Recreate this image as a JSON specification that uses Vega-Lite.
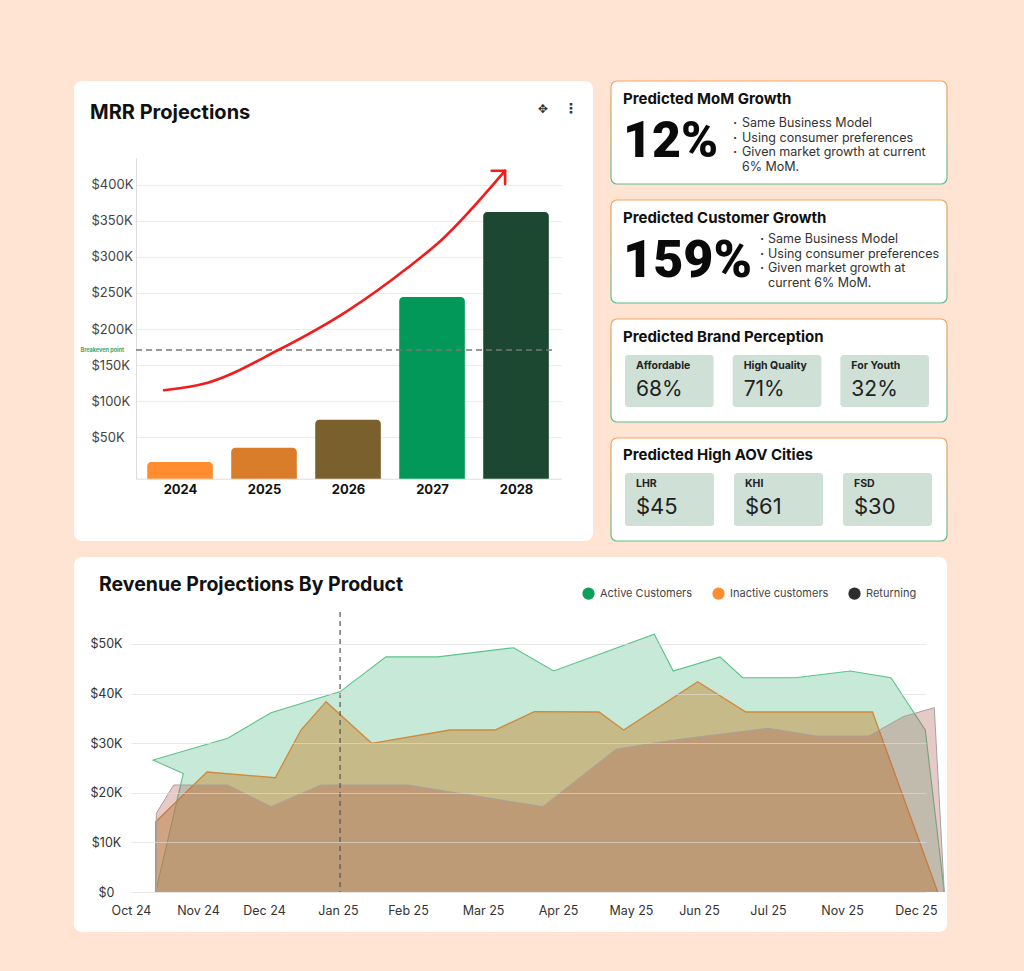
{
  "$schema": "https://vega.github.io/schema/vega-lite/v6.json",
  "background": "#ffe3d3",
  "padding": {"left": 74, "top": 80, "right": 76, "bottom": 39},
  "config": {
    "font": "Inter",
    "view": {"stroke": null},
    "title": {"font": "Inter"}
  },
  "resolve": {"scale": {"color": "independent"}, "legend": {"color": "independent"}},
  "datasets": {
    "arrow": [
      {"year": 2023.81, "mrr": 115100},
      {"year": 2024.33, "mrr": 125600},
      {"year": 2025.17, "mrr": 170900},
      {"year": 2025.99, "mrr": 224900},
      {"year": 2026.71, "mrr": 284900},
      {"year": 2027.1, "mrr": 321900},
      {"year": 2027.87, "mrr": 419300}
    ],
    "revenue": [
      {"s": "Active Customers", "i": 1, "t": 0.346, "v": 0},
      {"s": "Active Customers", "i": 2, "t": 0.733, "v": 23900},
      {"s": "Active Customers", "i": 3, "t": 0.308, "v": 26600},
      {"s": "Active Customers", "i": 4, "t": 1.355, "v": 31000},
      {"s": "Active Customers", "i": 5, "t": 1.962, "v": 36150},
      {"s": "Active Customers", "i": 6, "t": 2.933, "v": 40400},
      {"s": "Active Customers", "i": 7, "t": 3.573, "v": 47400},
      {"s": "Active Customers", "i": 8, "t": 4.298, "v": 47400},
      {"s": "Active Customers", "i": 9, "t": 5.363, "v": 49250},
      {"s": "Active Customers", "i": 10, "t": 5.923, "v": 44560},
      {"s": "Active Customers", "i": 11, "t": 7.333, "v": 51960},
      {"s": "Active Customers", "i": 12, "t": 7.599, "v": 44560},
      {"s": "Active Customers", "i": 13, "t": 8.254, "v": 47400},
      {"s": "Active Customers", "i": 14, "t": 8.572, "v": 43200},
      {"s": "Active Customers", "i": 15, "t": 9.309, "v": 43200},
      {"s": "Active Customers", "i": 16, "t": 10.08, "v": 44560},
      {"s": "Active Customers", "i": 17, "t": 10.65, "v": 43200},
      {"s": "Active Customers", "i": 18, "t": 11.131, "v": 32660},
      {"s": "Active Customers", "i": 19, "t": 11.397, "v": 0},
      {"s": "Inactive customers", "i": 1, "t": 0.346, "v": 0},
      {"s": "Inactive customers", "i": 2, "t": 0.346, "v": 14170},
      {"s": "Inactive customers", "i": 3, "t": 1.065, "v": 24190},
      {"s": "Inactive customers", "i": 4, "t": 2.022, "v": 23040},
      {"s": "Inactive customers", "i": 5, "t": 2.382, "v": 32660},
      {"s": "Inactive customers", "i": 6, "t": 2.733, "v": 38370},
      {"s": "Inactive customers", "i": 7, "t": 3.373, "v": 29980},
      {"s": "Inactive customers", "i": 8, "t": 4.47, "v": 32660},
      {"s": "Inactive customers", "i": 9, "t": 5.101, "v": 32660},
      {"s": "Inactive customers", "i": 10, "t": 5.652, "v": 36350},
      {"s": "Inactive customers", "i": 11, "t": 6.558, "v": 36290},
      {"s": "Inactive customers", "i": 12, "t": 6.904, "v": 32660},
      {"s": "Inactive customers", "i": 13, "t": 7.941, "v": 42400},
      {"s": "Inactive customers", "i": 14, "t": 8.618, "v": 36290},
      {"s": "Inactive customers", "i": 15, "t": 10.391, "v": 36290},
      {"s": "Inactive customers", "i": 16, "t": 11.305, "v": 0},
      {"s": "Returning", "i": 1, "t": 0.355, "v": 0},
      {"s": "Returning", "i": 2, "t": 0.355, "v": 15870},
      {"s": "Returning", "i": 3, "t": 0.598, "v": 21570},
      {"s": "Returning", "i": 4, "t": 1.355, "v": 21570},
      {"s": "Returning", "i": 5, "t": 1.962, "v": 17200},
      {"s": "Returning", "i": 6, "t": 2.663, "v": 21570},
      {"s": "Returning", "i": 7, "t": 3.878, "v": 21570},
      {"s": "Returning", "i": 8, "t": 5.769, "v": 17200},
      {"s": "Returning", "i": 9, "t": 6.797, "v": 28770},
      {"s": "Returning", "i": 10, "t": 7.329, "v": 30040},
      {"s": "Returning", "i": 11, "t": 7.946, "v": 31250},
      {"s": "Returning", "i": 12, "t": 8.927, "v": 33000},
      {"s": "Returning", "i": 13, "t": 9.599, "v": 31450},
      {"s": "Returning", "i": 14, "t": 10.342, "v": 31450},
      {"s": "Returning", "i": 15, "t": 10.818, "v": 35340},
      {"s": "Returning", "i": 16, "t": 11.257, "v": 37160},
      {"s": "Returning", "i": 17, "t": 11.397, "v": 0}
    ]
  },
  "spacing": 15,
  "vconcat": [
    {
      "spacing": 17,
      "hconcat": [
        {
          "width": 519,
          "height": 460,
          "view": {"fill": "#ffffff", "cornerRadius": 8, "stroke": null},
          "title": {"text": "MRR Projections", "anchor": "start", "frame": "group", "orient": "top", "offset": -42, "dx": 16, "fontSize": 20, "fontWeight": 700, "color": "#111111"},
          "layer": [
            {
              "data": {"values": [
                {"year": 2024, "mrr": 15800},
                {"year": 2025, "mrr": 35600},
                {"year": 2026, "mrr": 74400},
                {"year": 2027, "mrr": 244300},
                {"year": 2028, "mrr": 362000}
              ]},
              "mark": {"type": "bar", "width": 65.6, "cornerRadiusTopLeft": 4, "cornerRadiusTopRight": 4},
              "encoding": {
                "x": {"field": "year", "type": "quantitative",
                  "scale": {"domain": [2023.476, 2028.539], "range": [62, 487.3], "nice": false, "zero": false, "padding": 0},
                  "axis": {"orient": "bottom", "offset": -62.3, "values": [2024, 2025, 2026, 2027, 2028], "format": "d", "title": null, "grid": false, "ticks": false, "tickSize": 0, "domain": true, "domainColor": "#dddddd", "labelFontWeight": 700, "labelFontSize": 13, "labelColor": "#111111", "labelPadding": 5, "labelFlush": false, "labelOverlap": false}},
                "y": {"field": "mrr", "type": "quantitative",
                  "scale": {"domain": [-7340, 437300], "range": [397.7, 76.7], "nice": false, "zero": false},
                  "axis": {"orient": "left", "offset": -62, "values": [50000, 100000, 150000, 200000, 250000, 300000, 350000, 400000], "labelExpr": "'$' + (datum.value / 1000) + 'K'", "title": null, "ticks": false, "tickSize": 0, "domain": true, "domainColor": "#dddddd", "grid": true, "gridColor": "#ececec", "labelAlign": "left", "labelPadding": 45, "labelFontSize": 13, "labelColor": "#444444", "labelOverlap": false}},
                "y2": {"datum": -7340},
                "color": {"field": "year", "type": "nominal", "scale": {"domain": [2024, 2025, 2026, 2027, 2028], "range": ["#ff8c2e", "#d97d2b", "#7a602c", "#02985a", "#1c4731"]}, "legend": null}
              }
            },
            {
              "data": {"values": [{"label": "Breakeven point", "mrr": 171000}]},
              "layer": [
                {
                  "mark": {"type": "rule", "color": "#777777", "strokeWidth": 1.5, "strokeDash": [6, 4]},
                  "encoding": {
                    "y": {"field": "mrr", "type": "quantitative"},
                    "x": {"datum": 2023.476, "type": "quantitative"},
                    "x2": {"datum": 2028.47}
                  }
                },
                {
                  "mark": {"type": "text", "align": "right", "baseline": "middle", "dx": -12, "fontSize": 5.5, "fontWeight": 700, "color": "#3aa56b"},
                  "encoding": {
                    "y": {"field": "mrr", "type": "quantitative"},
                    "x": {"datum": 2023.476, "type": "quantitative"},
                    "text": {"field": "label"}
                  }
                }
              ]
            },
            {
              "data": {"name": "arrow"},
              "mark": {"type": "line", "color": "#f21c1c", "strokeWidth": 2.6, "interpolate": "monotone", "strokeCap": "round"},
              "encoding": {
                "x": {"field": "year", "type": "quantitative"},
                "y": {"field": "mrr", "type": "quantitative"}
              }
            },
            {
              "data": {"name": "arrow"},
              "transform": [{"filter": "datum.year > 2027.8"}],
              "mark": {"type": "point", "shape": "M-1,0L0,0L0,1", "size": 720, "filled": false, "stroke": "#f21c1c", "strokeWidth": 2.6, "strokeCap": "round", "strokeJoin": "round", "opacity": 1},
              "encoding": {
                "x": {"field": "year", "type": "quantitative"},
                "y": {"field": "mrr", "type": "quantitative"}
              }
            },
            {
              "data": {"values": [{}]},
              "mark": {"type": "text", "text": "✥", "fontSize": 12, "color": "#333333", "font": "DejaVu Sans", "baseline": "middle"},
              "encoding": {"x": {"datum": 2028.32, "type": "quantitative"}, "y": {"datum": 504700, "type": "quantitative"}}
            },
            {
              "data": {"values": [{}]},
              "mark": {"type": "text", "text": "⋮", "fontSize": 14, "fontWeight": 700, "color": "#333333", "font": "DejaVu Sans", "baseline": "middle"},
              "encoding": {"x": {"datum": 2028.655, "type": "quantitative"}, "y": {"datum": 504700, "type": "quantitative"}}
            }
          ]
        },
        {
          "spacing": 14,
          "vconcat": [
            {
              "width": 336,
              "height": 103,
              "title": {"text": "Predicted MoM Growth", "anchor": "start", "frame": "group", "orient": "top", "offset": -27, "dx": 12, "fontSize": 15, "fontWeight": 700, "color": "#111111"},
              "layer": [
                {
                  "data": {"values": [{}]},
                  "mark": {"type": "rect", "fill": "#ffffff", "cornerRadius": 6, "strokeWidth": 1.2, "stroke": {"gradient": "linear", "x1": 0, "y1": 0, "x2": 0, "y2": 1, "stops": [{"offset": 0, "color": "#f8a25a"}, {"offset": 1, "color": "#5cc08b"}]}},
                  "encoding": {}
                },
                {
                  "data": {"values": [{"part": "value", "text": "12%"}]},
                  "mark": {"type": "text", "align": "left", "baseline": "middle", "fontSize": 50, "fontWeight": 900, "font": "Roboto", "color": "#0a0a0a", "dy": 9},
                  "encoding": {
                    "x": {"field": "part", "type": "nominal", "scale": {"type": "point", "domain": ["value", "note"], "range": [12, 122], "padding": 0}, "axis": null},
                    "text": {"field": "text"}
                  }
                },
                {
                  "data": {"values": [
                    {"part": "note", "line": 1, "dot": "·", "text": "Same Business Model"},
                    {"part": "note", "line": 2, "dot": "·", "text": "Using consumer preferences"},
                    {"part": "note", "line": 3, "dot": "·", "text": "Given market growth at current"},
                    {"part": "note", "line": 4, "dot": "", "text": "6% MoM."}
                  ]},
                  "encoding": {
                    "x": {"field": "part", "type": "nominal", "axis": null},
                    "y": {"field": "line", "type": "ordinal", "scale": {"type": "point", "range": [42, 86], "padding": 0}, "axis": null}
                  },
                  "layer": [
                    {"mark": {"type": "text", "align": "left", "baseline": "middle", "fontSize": 12.5, "fontWeight": 700, "color": "#333333"}, "encoding": {"text": {"field": "dot"}}},
                    {"mark": {"type": "text", "align": "left", "baseline": "middle", "fontSize": 12.5, "color": "#333333", "dx": 9}, "encoding": {"text": {"field": "text"}}}
                  ]
                }
              ]
            },
            {
              "width": 336,
              "height": 103,
              "title": {"text": "Predicted Customer Growth", "anchor": "start", "frame": "group", "orient": "top", "offset": -27, "dx": 12, "fontSize": 15, "fontWeight": 700, "color": "#111111"},
              "layer": [
                {
                  "data": {"values": [{}]},
                  "mark": {"type": "rect", "fill": "#ffffff", "cornerRadius": 6, "strokeWidth": 1.2, "stroke": {"gradient": "linear", "x1": 0, "y1": 0, "x2": 0, "y2": 1, "stops": [{"offset": 0, "color": "#f8a25a"}, {"offset": 1, "color": "#5cc08b"}]}},
                  "encoding": {}
                },
                {
                  "data": {"values": [{"part": "value", "text": "159%"}]},
                  "mark": {"type": "text", "align": "left", "baseline": "middle", "fontSize": 52, "fontWeight": 900, "font": "Roboto", "color": "#0a0a0a", "dy": 9},
                  "encoding": {
                    "x": {"field": "part", "type": "nominal", "scale": {"type": "point", "domain": ["value", "note"], "range": [12, 149], "padding": 0}, "axis": null},
                    "text": {"field": "text"}
                  }
                },
                {
                  "data": {"values": [
                    {"part": "note", "line": 1, "dot": "·", "text": "Same Business Model"},
                    {"part": "note", "line": 2, "dot": "·", "text": "Using consumer preferences"},
                    {"part": "note", "line": 3, "dot": "·", "text": "Given market growth at"},
                    {"part": "note", "line": 4, "dot": "", "text": "current 6% MoM."}
                  ]},
                  "encoding": {
                    "x": {"field": "part", "type": "nominal", "axis": null},
                    "y": {"field": "line", "type": "ordinal", "scale": {"type": "point", "range": [39, 82.5], "padding": 0}, "axis": null}
                  },
                  "layer": [
                    {"mark": {"type": "text", "align": "left", "baseline": "middle", "fontSize": 12.5, "fontWeight": 700, "color": "#333333"}, "encoding": {"text": {"field": "dot"}}},
                    {"mark": {"type": "text", "align": "left", "baseline": "middle", "fontSize": 12.5, "color": "#333333", "dx": 8}, "encoding": {"text": {"field": "text"}}}
                  ]
                }
              ]
            },
            {
              "width": 336,
              "height": 103,
              "title": {"text": "Predicted Brand Perception", "anchor": "start", "frame": "group", "orient": "top", "offset": -27, "dx": 12, "fontSize": 15, "fontWeight": 700, "color": "#111111"},
              "layer": [
                {
                  "data": {"values": [{}]},
                  "mark": {"type": "rect", "fill": "#ffffff", "cornerRadius": 6, "strokeWidth": 1.2, "stroke": {"gradient": "linear", "x1": 0, "y1": 0, "x2": 0, "y2": 1, "stops": [{"offset": 0, "color": "#f8a25a"}, {"offset": 1, "color": "#5cc08b"}]}},
                  "encoding": {}
                },
                {
                  "data": {"values": [
                    {"card": "brand", "label": "Affordable", "value": "68%"},
                    {"card": "brand", "label": "High Quality", "value": "71%"},
                    {"card": "brand", "label": "For Youth", "value": "32%"}
                  ]},
                  "encoding": {
                    "x": {"field": "label", "type": "nominal", "sort": null, "scale": {"type": "band", "range": [14, 318], "paddingInner": 0.177, "paddingOuter": 0}, "axis": null},
                    "y": {"field": "card", "type": "nominal", "scale": {"type": "band", "range": [36, 88], "paddingInner": 0, "paddingOuter": 0}, "axis": null}
                  },
                  "layer": [
                    {"mark": {"type": "bar", "color": "#cfe0d7", "cornerRadius": 3}},
                    {"mark": {"type": "text", "align": "left", "baseline": "middle", "fontSize": 10.5, "fontWeight": 700, "color": "#222222", "dx": 11, "dy": 11},
                     "encoding": {"x": {"field": "label", "type": "nominal", "sort": null, "bandPosition": 0}, "y": {"field": "card", "type": "nominal", "bandPosition": 0}, "text": {"field": "label"}}},
                    {"mark": {"type": "text", "align": "left", "baseline": "middle", "fontSize": 21, "color": "#222222", "dx": 11, "dy": 35},
                     "encoding": {"x": {"field": "label", "type": "nominal", "sort": null, "bandPosition": 0}, "y": {"field": "card", "type": "nominal", "bandPosition": 0}, "text": {"field": "value"}}}
                  ]
                }
              ]
            },
            {
              "width": 336,
              "height": 103,
              "title": {"text": "Predicted High AOV Cities", "anchor": "start", "frame": "group", "orient": "top", "offset": -26, "dx": 12, "fontSize": 15, "fontWeight": 700, "color": "#111111"},
              "layer": [
                {
                  "data": {"values": [{}]},
                  "mark": {"type": "rect", "fill": "#ffffff", "cornerRadius": 6, "strokeWidth": 1.2, "stroke": {"gradient": "linear", "x1": 0, "y1": 0, "x2": 0, "y2": 1, "stops": [{"offset": 0, "color": "#f8a25a"}, {"offset": 1, "color": "#5cc08b"}]}},
                  "encoding": {}
                },
                {
                  "data": {"values": [
                    {"card": "aov", "city": "LHR", "value": "$45"},
                    {"card": "aov", "city": "KHI", "value": "$61"},
                    {"card": "aov", "city": "FSD", "value": "$30"}
                  ]},
                  "encoding": {
                    "x": {"field": "city", "type": "nominal", "sort": null, "scale": {"type": "band", "range": [14, 321], "paddingInner": 0.183, "paddingOuter": 0}, "axis": null},
                    "y": {"field": "card", "type": "nominal", "scale": {"type": "band", "range": [35, 88], "paddingInner": 0, "paddingOuter": 0}, "axis": null}
                  },
                  "layer": [
                    {"mark": {"type": "bar", "color": "#cfe0d7", "cornerRadius": 3}},
                    {"mark": {"type": "text", "align": "left", "baseline": "middle", "fontSize": 10.5, "fontWeight": 700, "color": "#222222", "dx": 11, "dy": 11},
                     "encoding": {"x": {"field": "city", "type": "nominal", "sort": null, "bandPosition": 0}, "y": {"field": "card", "type": "nominal", "bandPosition": 0}, "text": {"field": "city"}}},
                    {"mark": {"type": "text", "align": "left", "baseline": "middle", "fontSize": 22, "color": "#222222", "dx": 11, "dy": 34},
                     "encoding": {"x": {"field": "city", "type": "nominal", "sort": null, "bandPosition": 0}, "y": {"field": "card", "type": "nominal", "bandPosition": 0}, "text": {"field": "value"}}}
                  ]
                }
              ]
            }
          ]
        }
      ]
    },
    {
      "width": 873,
      "height": 375,
      "view": {"fill": "#ffffff", "cornerRadius": 8, "stroke": null},
      "title": {"text": "Revenue Projections By Product", "anchor": "start", "frame": "group", "orient": "top", "offset": -38, "dx": 25, "fontSize": 19.5, "fontWeight": 700, "color": "#111111"},
      "layer": [
        {
          "data": {"name": "revenue"},
          "encoding": {
            "x": {"field": "t", "type": "quantitative",
              "scale": {"domain": [0, 11.141], "range": [57, 852], "nice": false, "zero": false},
              "axis": {"orient": "bottom", "offset": -40, "values": [0, 0.939, 1.864, 2.901, 3.882, 4.933, 5.984, 7.007, 7.96, 8.927, 9.964, 11], "labelExpr": "datum.value < 0.47 ? 'Oct 24' : datum.value < 1.4 ? 'Nov 24' : datum.value < 2.38 ? 'Dec 24' : datum.value < 3.39 ? 'Jan 25' : datum.value < 4.41 ? 'Feb 25' : datum.value < 5.46 ? 'Mar 25' : datum.value < 6.5 ? 'Apr 25' : datum.value < 7.48 ? 'May 25' : datum.value < 8.44 ? 'Jun 25' : datum.value < 9.45 ? 'Jul 25' : datum.value < 10.48 ? 'Nov 25' : 'Dec 25'", "title": null, "grid": false, "ticks": false, "tickSize": 0, "domain": false, "labelPadding": 12, "labelFontSize": 12.5, "labelColor": "#333333", "labelFlush": false, "labelOverlap": false}},
            "y": {"field": "v", "type": "quantitative",
              "scale": {"domain": [0, 56450], "range": [335, 55], "nice": false},
              "axis": {"orient": "left", "offset": -57, "values": [0, 10000, 20000, 30000, 40000, 50000], "labelExpr": "datum.value == 0 ? '$0' : '$' + (datum.value / 1000) + 'K'", "title": null, "ticks": false, "tickSize": 0, "domain": false, "grid": true, "gridColor": "#dddddd", "gridOpacity": 0.65, "zindex": 1, "labelAlign": "center", "labelPadding": 25, "labelFontSize": 12.5, "labelColor": "#333333", "labelOverlap": false}}
          },
          "layer": [
            {"transform": [{"filter": "datum.s === 'Active Customers'"}], "mark": {"type": "line", "stroke": "#5cc18c", "strokeWidth": 1.1, "fill": "#13a45e", "fillOpacity": 0.24}, "encoding": {"order": {"field": "i", "type": "quantitative"}}},
            {"transform": [{"filter": "datum.s === 'Inactive customers'"}], "mark": {"type": "line", "stroke": "#d0893a", "strokeWidth": 1.3, "fill": "#c48c38", "fillOpacity": 0.5}, "encoding": {"order": {"field": "i", "type": "quantitative"}}},
            {"transform": [{"filter": "datum.s === 'Returning'"}], "mark": {"type": "line", "stroke": "#a8a09c", "strokeWidth": 1, "fill": "#b05a54", "fillOpacity": 0.32}, "encoding": {"order": {"field": "i", "type": "quantitative"}}},
            {
              "mark": {"type": "point", "opacity": 0, "filled": true},
              "encoding": {
                "color": {"field": "s", "type": "nominal",
                  "scale": {"domain": ["Active Customers", "Inactive customers", "Returning"], "range": ["#0d9f57", "#ff8c2e", "#2e2e2e"]},
                  "legend": {"orient": "top-right", "direction": "horizontal", "title": null, "symbolType": "circle", "symbolSize": 150, "symbolOpacity": 1, "symbolStrokeWidth": 0, "labelFontSize": 11, "labelColor": "#444444", "columnPadding": 19, "labelOffset": 5, "offset": 30}}
              }
            }
          ]
        },
        {
          "data": {"values": [{}]},
          "mark": {"type": "rule", "strokeDash": [5, 4], "color": "#555555", "strokeWidth": 1.2},
          "encoding": {
            "x": {"datum": 2.93, "type": "quantitative"},
            "y": {"datum": 56450, "type": "quantitative"},
            "y2": {"datum": 0}
          }
        }
      ]
    }
  ]
}
